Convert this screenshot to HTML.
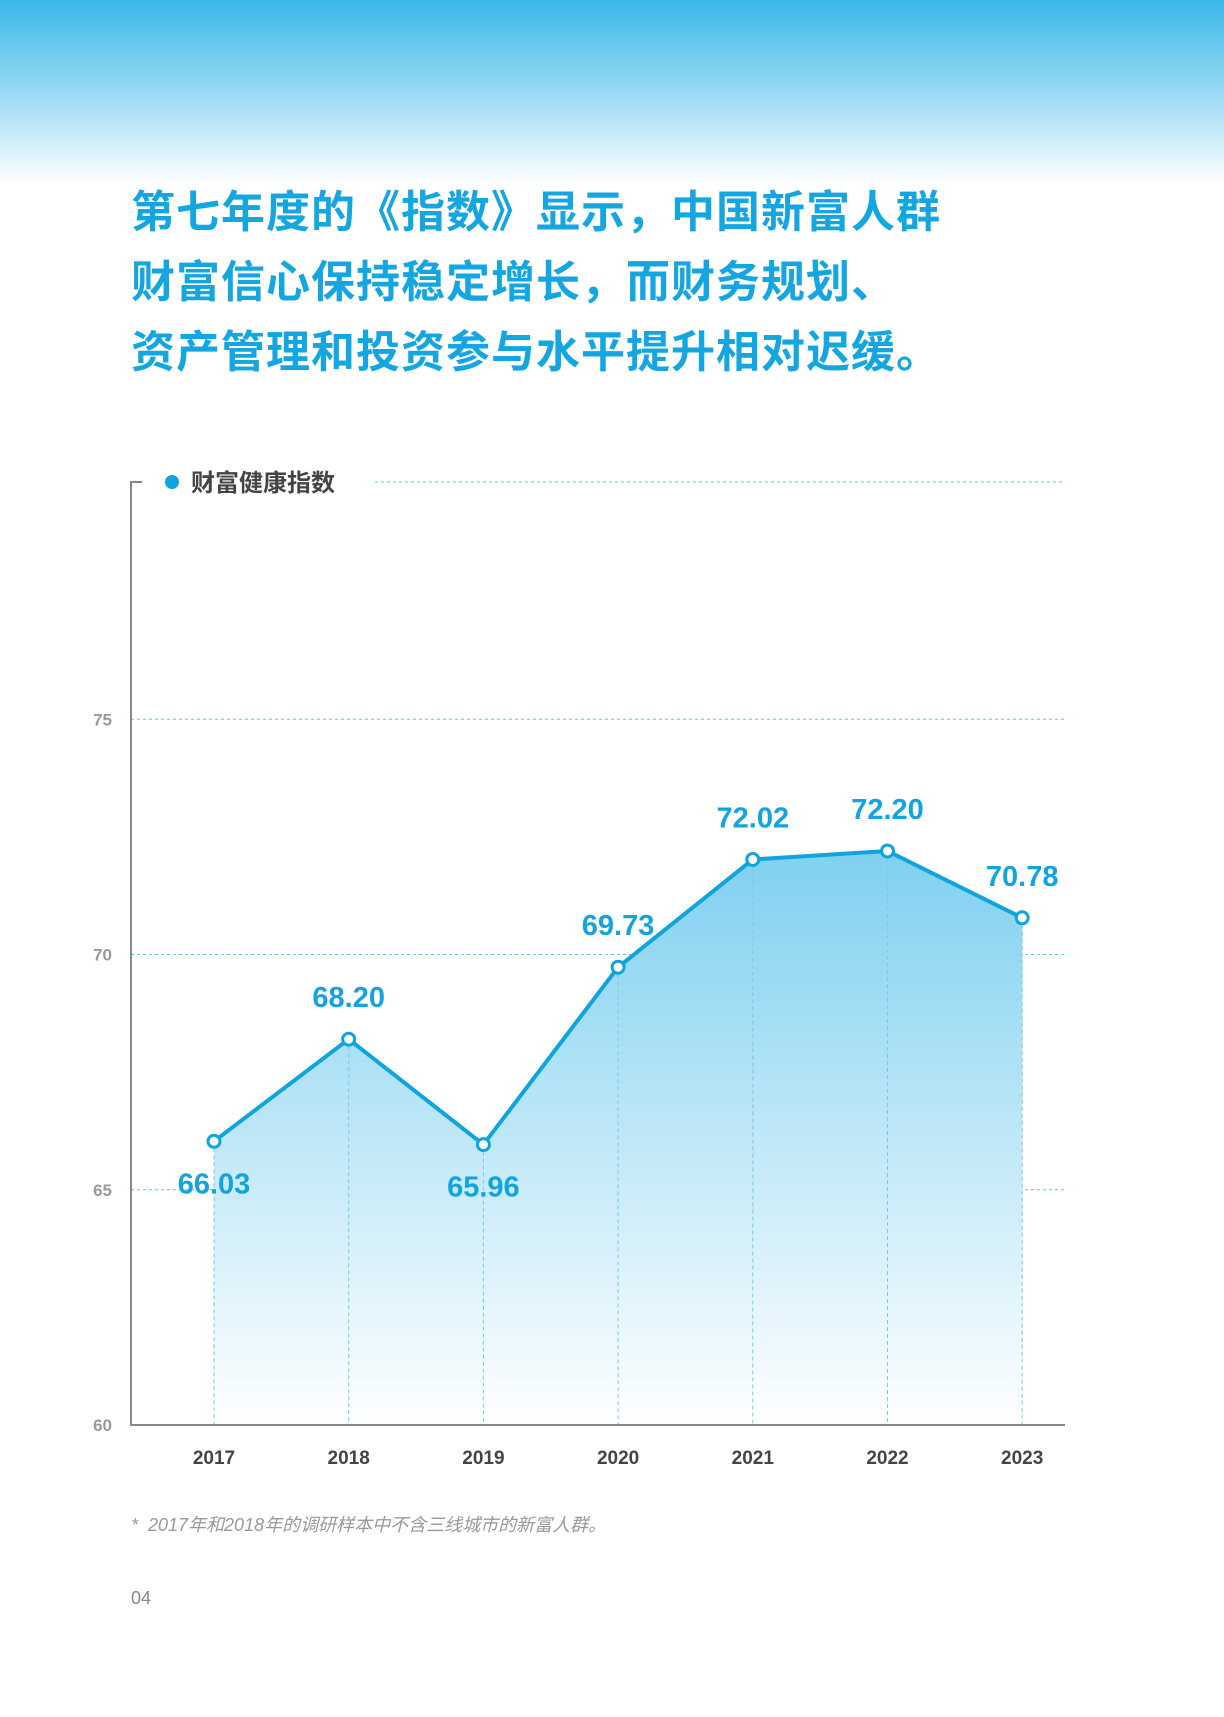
<!DOCTYPE html>
<html><head><meta charset="utf-8">
<style>
body{margin:0;width:1224px;height:1717px;background:#fff;position:relative;overflow:hidden;font-family:"Liberation Sans","Noto Sans CJK SC",sans-serif}
#hdr{position:absolute;left:0;top:0;width:1224px;height:185px;background:linear-gradient(#3ab8e8,#8fd6f2 45%,#fff)}
#title{position:absolute;left:131px;top:178px;color:#14a6e0;font-size:44px;font-weight:bold;line-height:70px;font-family:"Liberation Sans","Noto Sans CJK SC",sans-serif;letter-spacing:1px}
#foot{position:absolute;left:131px;top:1511px;color:#999;font-size:18px;font-style:italic}
#pg{position:absolute;left:131px;top:1588px;color:#888;font-size:18px}
svg{position:absolute;left:0;top:0}
</style></head><body>
<div id="hdr"></div>
<div id="title">第七年度的《指数》显示，中国新富人群<br>财富信心保持稳定增长，而财务规划、<br>资产管理和投资参与水平提升相对迟缓。</div>
<svg id="chart" width="1224" height="1717">
<defs><linearGradient id="fill" x1="0" y1="0" x2="0" y2="1"><stop offset="0" stop-color="#7fd0f0"/><stop offset="1" stop-color="#ffffff"/></linearGradient></defs>
</svg>
<div id="foot">*&nbsp; 2017年和2018年的调研样本中不含三线城市的新富人群。</div>
<div id="pg">04</div>
<script>
const categories=["2017","2018","2019","2020","2021","2022","2023"];
const values=[66.03,68.20,65.96,69.73,72.02,72.20,70.78];
const labels=["66.03","68.20","65.96","69.73","72.02","72.20","70.78"];
const yTicks=[60,65,70,75];
const labelBelow=[true,false,true,false,false,false,false];
const svg=document.getElementById('chart');
const NS='http://www.w3.org/2000/svg';
const L=131,R=1065,B=1425,T=482,x0=214,dx=134.7;
function x(i){return x0+i*dx;}
function y(v){return B-(v-60)*47.05;}
function mk(t,a,p){const e=document.createElementNS(NS,t);for(const k in a)e.setAttribute(k,a[k]);(p||svg).appendChild(e);return e;}
// grid
yTicks.forEach(v=>{
 if(v>60){const g=mk('line',{x1:L,x2:R,y1:y(v),y2:y(v),stroke:'#6cc0e0','stroke-width':1,'stroke-dasharray':'3,3'});
 
 }
 const t=mk('text',{x:112,y:y(v)+6,'text-anchor':'end','font-size':17,'font-weight':'bold',fill:'#999','font-family':'"Liberation Sans Narrow","Liberation Sans",sans-serif'});
 t.textContent=v;
 
 
});
const tg=mk('line',{x1:375,x2:R,y1:T,y2:T,stroke:'#6cc0e0','stroke-width':1,'stroke-dasharray':'3,3'});


// area
let d='M'+x(0)+','+B;values.forEach((v,i)=>d+=' L'+x(i)+','+y(v));d+=' L'+x(values.length-1)+','+B+' Z';
const area=mk('path',{d:d,fill:'url(#fill)'});


// vertical dashed
values.forEach((v,i)=>{const l=mk('line',{x1:x(i),x2:x(i),y1:y(v),y2:B,stroke:'#7cc8e6','stroke-width':1,'stroke-dasharray':'4,3'});
 
 });
// axes
const ax=mk('path',{d:'M142,'+T+' L'+L+','+T+' L'+L+','+B+' L'+R+','+B,fill:'none',stroke:'#888','stroke-width':2});


// line
const line=mk('polyline',{points:values.map((v,i)=>x(i)+','+y(v)).join(' '),fill:'none',stroke:'#0ea5de','stroke-width':4,'stroke-linejoin':'round'});


values.forEach((v,i)=>{
 const c=mk('circle',{cx:x(i),cy:y(v),r:6,fill:'#fff',stroke:'#0ea5de','stroke-width':3});
 
 
 const t=mk('text',{x:x(i),y:labelBelow[i]?y(v)+52:y(v)-32,'text-anchor':'middle','font-size':29,'font-weight':'bold',fill:'#12a4de','font-family':'"Liberation Sans Narrow","Liberation Sans",sans-serif'});
 t.textContent=labels[i];
 
 
 const xt=mk('text',{x:x(i),y:1464,'text-anchor':'middle','font-size':19,'font-weight':'bold',fill:'#444','font-family':'"Liberation Sans Narrow","Liberation Sans",sans-serif'});
 xt.textContent=categories[i];
 
 
});
// legend
const ld=mk('circle',{cx:172,cy:482,r:7,fill:'#0ea5de'});


const lt=mk('text',{x:191,y:491,'font-size':24,'font-weight':'bold',fill:'#444','font-family':'"Liberation Sans","Noto Sans CJK SC",sans-serif'});
lt.textContent='财富健康指数';


</script>
</body></html>
